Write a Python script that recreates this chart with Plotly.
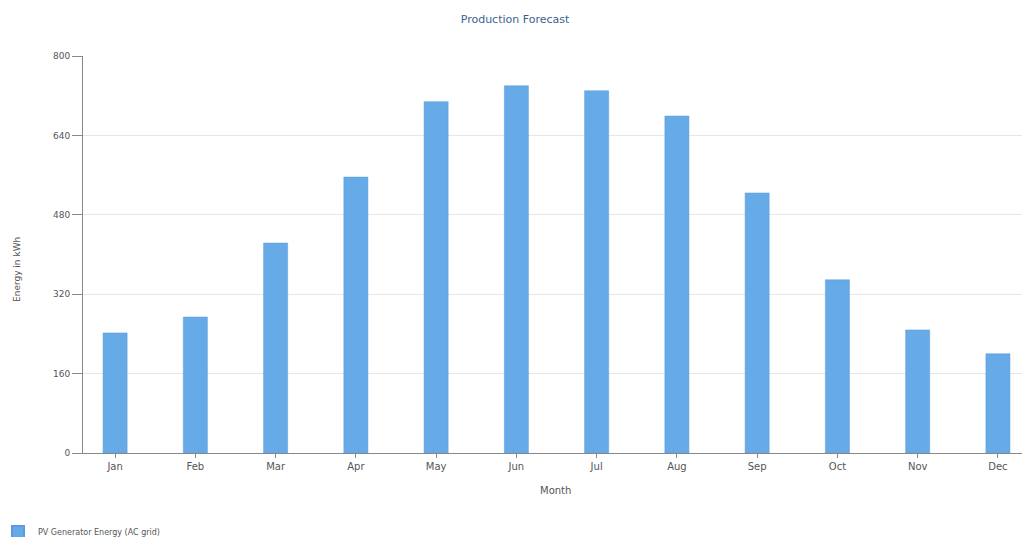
import plotly.graph_objects as go

months = ["Jan", "Feb", "Mar", "Apr", "May", "Jun", "Jul", "Aug", "Sep", "Oct", "Nov", "Dec"]
energy_kwh = [242, 274, 423, 556, 708, 740, 730, 679, 524, 349, 248, 200]
y_ticks = [0, 160, 320, 480, 640, 800]
series_name = "PV Generator Energy (AC grid)"

W, H = 1022, 537
L, R, T, B = 83, 0, 56, 84
pw, ph = W - L - R, H - T - B

fig = go.Figure()
fig.add_trace(go.Bar(
    x=months, y=energy_kwh, name=series_name,
    width=0.3,
    marker=dict(color="#66aae8", line=dict(color="#5b9bd9", width=0.5)),
    showlegend=True,
))

font_family = "DejaVu Sans, Verdana, sans-serif"
fig.update_layout(
    width=W, height=H,
    margin=dict(l=L, r=R, t=T, b=B, pad=0, autoexpand=False),
    paper_bgcolor="white", plot_bgcolor="white",
    font=dict(family=font_family, size=10, color="#555555"),
    title=dict(text="Production Forecast", x=515 / W, xanchor="center",
               y=1 - 19 / H, yanchor="middle",
               font=dict(family=font_family, size=11, color="#3d5f8f")),
    showlegend=True,
    legend=dict(orientation="h", x=(-2 - L) / pw, xanchor="left",
                y=-(532 - (T + ph)) / ph, yanchor="middle",
                font=dict(size=8, color="#555555"), bgcolor="rgba(0,0,0,0)",
                itemsizing="constant"),
)
fig.update_xaxes(
    type="category", range=[-0.4, 11.3], automargin=False,
    showline=True, linecolor="#888888", linewidth=1,
    ticks="outside", ticklen=4, tickcolor="#888888",
    showgrid=False, tickfont=dict(size=10, color="#555555"),
)
fig.update_yaxes(
    range=[0, 800], tickvals=y_ticks, ticktext=[str(v) for v in y_ticks], automargin=False,
    showline=True, linecolor="#888888", linewidth=1,
    ticks="outside", ticklen=10, tickcolor="#888888",
    showgrid=True, gridcolor="#e6e6e6", gridwidth=1,
    zeroline=False, tickfont=dict(size=9, color="#555555"),
)
fig.add_annotation(text="Month", xref="paper", yref="paper",
                   x=(555 - L) / pw, y=-(490 - (T + ph)) / ph, xanchor="center", yanchor="middle",
                   showarrow=False, font=dict(size=10, color="#555555"))
fig.add_annotation(text="Energy in kWh", textangle=-90, xref="paper", yref="paper",
                   x=(17 - L) / pw, y=(H - B - 270) / ph, xanchor="center", yanchor="middle",
                   showarrow=False, font=dict(size=9, color="#555555"))

fig.write_html("out.html")
